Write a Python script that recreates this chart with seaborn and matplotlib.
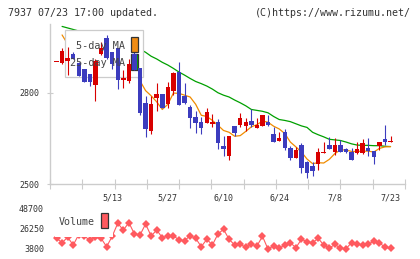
import matplotlib
matplotlib.use("Agg")
import matplotlib.pyplot as plt
import numpy as np
import pandas as pd
import seaborn as sns
from matplotlib.patches import Rectangle
from matplotlib.ticker import FixedLocator, LinearLocator

# ---------------- data ----------------
dates = ["4/24", "4/25", "4/26", "4/30", "5/1", "5/2", "5/7", "5/8", "5/9", "5/10",
         "5/13", "5/14", "5/15", "5/16", "5/17", "5/20", "5/21", "5/22", "5/23", "5/24",
         "5/27", "5/28", "5/29", "5/30", "5/31", "6/3", "6/4", "6/5", "6/6", "6/7",
         "6/10", "6/11", "6/12", "6/13", "6/14", "6/17", "6/18", "6/19", "6/20", "6/21",
         "6/24", "6/25", "6/26", "6/27", "6/28", "7/1", "7/2", "7/3", "7/4", "7/5",
         "7/8", "7/9", "7/10", "7/11", "7/12", "7/16", "7/17", "7/18", "7/19", "7/22",
         "7/23"]
date_labels = ["5/13", "5/27", "6/10", "6/24", "7/8", "7/23"]

opens = [2900, 2898, 2903, 2927, 2897, 2878, 2860, 2826, 2928, 2980,
         2933, 2946, 2842, 2839, 2926, 2881, 2765, 2675, 2784, 2796,
         2763, 2806, 2869, 2789, 2752, 2720, 2703, 2701, 2697, 2704,
         2625, 2592, 2691, 2694, 2691, 2707, 2685, 2691, 2705, 2664,
         2641, 2672, 2618, 2586, 2628, 2573, 2560, 2565, 2603, 2628,
         2606, 2628, 2615, 2606, 2601, 2601, 2618, 2608, 2626, 2648,
         2639]
highs = [2900, 2947, 2949, 2935, 2902, 2878, 2860, 2910, 2966, 2990,
         2933, 2946, 2875, 2911, 2953, 2881, 2789, 2789, 2831, 2796,
         2836, 2869, 2902, 2831, 2760, 2740, 2719, 2749, 2729, 2714,
         2658, 2658, 2691, 2732, 2717, 2746, 2717, 2727, 2727, 2688,
         2671, 2680, 2626, 2621, 2634, 2577, 2573, 2619, 2639, 2653,
         2650, 2646, 2619, 2617, 2637, 2648, 2650, 2608, 2637, 2694,
         2658]
lows = [2900, 2894, 2857, 2911, 2856, 2836, 2823, 2774, 2925, 2910,
        2878, 2813, 2814, 2833, 2875, 2727, 2655, 2664, 2741, 2751,
        2751, 2792, 2760, 2763, 2685, 2669, 2666, 2700, 2686, 2616,
        2592, 2579, 2659, 2686, 2674, 2688, 2685, 2691, 2690, 2639,
        2641, 2612, 2579, 2586, 2537, 2521, 2527, 2547, 2603, 2616,
        2595, 2606, 2603, 2579, 2598, 2598, 2592, 2566, 2612, 2628,
        2639]
closes = [2900, 2937, 2914, 2911, 2856, 2836, 2836, 2904, 2947, 2915,
          2895, 2842, 2850, 2896, 2875, 2734, 2681, 2763, 2797, 2751,
          2820, 2864, 2760, 2767, 2718, 2701, 2685, 2737, 2704, 2636,
          2616, 2658, 2669, 2716, 2704, 2694, 2694, 2727, 2694, 2639,
          2652, 2619, 2586, 2612, 2554, 2537, 2544, 2604, 2606, 2616,
          2628, 2606, 2606, 2579, 2615, 2634, 2608, 2590, 2637, 2639,
          2641]
ma5 = [np.nan, 2990, 2960, 2930, 2904, 2891, 2871, 2869, 2876, 2888,
       2899, 2901, 2890, 2880, 2872, 2839, 2807, 2790, 2770, 2745,
       2762, 2799, 2798, 2792, 2786, 2762, 2726, 2722, 2709, 2693,
       2676, 2670, 2657, 2659, 2673, 2688, 2695, 2707, 2703, 2690,
       2681, 2666, 2638, 2622, 2605, 2582, 2567, 2570, 2569, 2581,
       2600, 2612, 2612, 2607, 2607, 2608, 2608, 2605, 2617, 2622,
       2623]
ma25 = [np.nan, 3018, 3013, 3008, 3003, 2998, 2993, 2988, 2984, 2980,
        2976, 2971, 2965, 2958, 2950, 2943, 2933, 2920, 2911, 2900,
        2891, 2880, 2868, 2858, 2847, 2837, 2830, 2822, 2812, 2800,
        2792, 2786, 2776, 2767, 2757, 2745, 2742, 2739, 2734, 2722,
        2712, 2709, 2705, 2698, 2691, 2686, 2670, 2662, 2655, 2647,
        2645, 2643, 2638, 2632, 2628, 2627, 2627, 2626, 2626, 2624,
        2623]
volume = [16000, 10870, 17000, 8290, 20000, 18000, 13900, 17000, 15800, 6400,
          18000, 32650, 25130, 33350, 20640, 19520, 31860, 18390, 25130, 16490,
          18390, 18730, 13900, 13120, 18730, 15800, 6400, 14690, 8290, 20640,
          25910, 14690, 8290, 9080, 5670, 9080, 7170, 18060, 3460, 7510,
          4590, 8290, 10870, 5260, 14690, 12000, 10870, 15800, 8290, 4590,
          9080, 4590, 4140, 10870, 9410, 7960, 9410, 12440, 10870, 5670,
          4590]
vol_ticks = [3800, 26250, 48700]
price_ticks = [2500, 2800]

# ---------------- style ----------------
sns.set_theme(style="white")
plt.rcParams["font.family"] = ["DejaVu Sans Mono", "DejaVu Sans"]

W, H = 420, 259
UP, DOWN = "#d80000", "#3c3cbe"
GRAY = "#cccccc"
TXT = "#333333"

fig = plt.figure(figsize=(W / 100, H / 100), dpi=100)
fig.patch.set_facecolor("white")

# main axes: pixels x 50..405, y 24..184
AX_L, AX_R, AX_T, AX_B = 50, 405, 24, 184
ax = fig.add_axes([AX_L / W, (H - AX_B) / H, (AX_R - AX_L) / W, (AX_B - AX_T) / H])
ax.set_facecolor("white")

idx = np.arange(len(dates))
df = pd.DataFrame({"i": idx, "open": opens, "high": highs, "low": lows,
                   "close": closes, "ma5": ma5, "ma25": ma25, "vol": volume})

# moving averages (below the legend box)
d5 = df.dropna(subset=["ma5"])
d25 = df.dropna(subset=["ma25"])
sns.lineplot(data=d25, x="i", y="ma25", ax=ax, color="#00a000", lw=0.9, zorder=1)
sns.lineplot(data=d5, x="i", y="ma5", ax=ax, color="#f08c00", lw=0.9, zorder=1)

# candles
for i, o, h, l, c in zip(idx, opens, highs, lows, closes):
    col = UP if c >= o else DOWN
    ax.vlines(i, l, h, color=col, lw=0.8, zorder=3)
    ax.bar(i, max(abs(c - o), 3), bottom=min(o, c), width=0.8, color=col,
           linewidth=0, zorder=4)

ax.set_xlim(-1.17, 62.6)
ax.set_ylim(2500, 3026)
ax.set_xlabel("")
ax.set_ylabel("")

def axc(px, py):
    return ((px - AX_L) / (AX_R - AX_L), (AX_B - py) / (AX_B - AX_T))

# legend box (white, above MA lines, below candles)
x0, y1 = axc(65, 30)
x1, y0 = axc(143.3, 77.3)
ax.add_patch(Rectangle((x0, y0), x1 - x0, y1 - y0, transform=ax.transAxes,
                       facecolor="white", edgecolor=GRAY, lw=0.9, zorder=2))
tx, ty = axc(125, 45.7)
ax.text(tx, ty, "5-day MA", transform=ax.transAxes, ha="right", va="center",
        fontsize=7.3, color="#444444", zorder=7)
tx, ty = axc(125, 62.7)
ax.text(tx, ty, "25-day MA", transform=ax.transAxes, ha="right", va="center",
        fontsize=7.3, color="#444444", zorder=7)
px0, py1 = axc(131, 36.7)
px1, py0 = axc(137.7, 52.3)
ax.add_patch(Rectangle((px0, py0), px1 - px0, py1 - py0, transform=ax.transAxes,
                       facecolor="#f08c14", edgecolor="#333333", lw=0.9, zorder=6))
px0, py1 = axc(131, 54)
px1, py0 = axc(137.7, 70)
ax.add_patch(Rectangle((px0, py0), px1 - px0, py1 - py0, transform=ax.transAxes,
                       facecolor="#00a000", edgecolor="#333333", lw=0.9, zorder=2.5))

# axes decoration
for s in ["top", "right"]:
    ax.spines[s].set_visible(False)
for s in ["left", "bottom"]:
    ax.spines[s].set_color(GRAY)
    ax.spines[s].set_linewidth(1.0)
ax.yaxis.set_major_locator(FixedLocator(price_ticks))
ax.set_yticklabels([str(v) for v in price_ticks])
ax.tick_params(axis="y", which="major", direction="inout", length=4.3, width=0.8,
               color=GRAY, labelsize=6, labelcolor=TXT, pad=5.5, left=True)
pos = [dates.index(d) for d in date_labels]
ax.xaxis.set_major_locator(FixedLocator(pos))
ax.set_xticklabels(date_labels)
ax.tick_params(axis="x", which="major", length=0, labelsize=6, labelcolor=TXT, pad=6.5)
ax.xaxis.set_minor_locator(LinearLocator(12))
ax.tick_params(axis="x", which="minor", direction="inout", length=6.5, width=0.8,
               color=GRAY, bottom=True)
ax.grid(False)

# volume axes: pixels y 205..253, 3800 at y=249, 48700 at y=209
VT, VB = 205, 253
vax = fig.add_axes([AX_L / W, (H - VB) / H, (AX_R - AX_L) / W, (VB - VT) / H])
vax.set_facecolor("none")
per_px = (vol_ticks[-1] - vol_ticks[0]) / 40.0
vax.set_ylim(vol_ticks[0] - (VB - 249) * per_px, vol_ticks[0] + (249 - VT) * per_px)
vax.set_xlim(-1.17, 62.6)
sns.lineplot(data=df, x="i", y="vol", ax=vax, color="#ff5a5f", lw=0.8, marker="D",
             markersize=3.8, markeredgewidth=0, zorder=1, clip_on=False)
for s in vax.spines.values():
    s.set_visible(False)
vax.set_xticks([])
vax.set_xlabel("")
vax.set_ylabel("")
vax.yaxis.set_major_locator(FixedLocator(vol_ticks))
vax.set_yticklabels([str(v) for v in vol_ticks])
vax.tick_params(axis="y", length=0, labelsize=6, labelcolor=TXT, pad=4.3)
vax.grid(False)

def vxc(px, py):
    return ((px - AX_L) / (AX_R - AX_L), (VB - py) / (VB - VT))

bx0, by1 = vxc(55, 206)
bx1, by0 = vxc(113, 237)
vax.add_patch(Rectangle((bx0, by0), bx1 - bx0, by1 - by0, transform=vax.transAxes,
                        facecolor="white", edgecolor="none", zorder=3))
tx, ty = vxc(58.3, 222.3)
vax.text(tx, ty, "Volume", transform=vax.transAxes, ha="left", va="center",
         fontsize=7.2, color="#444444", zorder=5)
rx0, ry1 = vxc(101, 212.7)
rx1, ry0 = vxc(108, 228.3)
vax.add_patch(Rectangle((rx0, ry0), rx1 - rx0, ry1 - ry0, transform=vax.transAxes,
                        facecolor="#ff5a5f", edgecolor="#333333", lw=0.9, zorder=5))

# header
fig.text(8.3 / W, 1 - 12.7 / H, "7937 07/23 17:00 updated.", ha="left", va="center",
         fontsize=7.2, color=TXT)
fig.text(411 / W, 1 - 12.7 / H, "(C)https://www.rizumu.net/", ha="right", va="center",
         fontsize=7.2, color=TXT)

fig.savefig("out.png", dpi=100, facecolor="white")
